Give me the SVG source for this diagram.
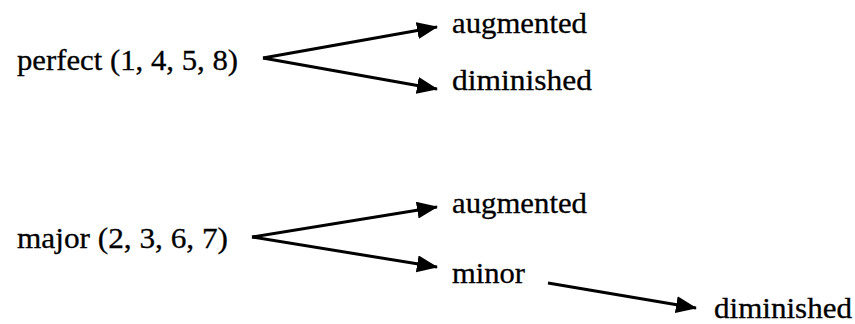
<svg xmlns="http://www.w3.org/2000/svg" width="855" height="324" viewBox="0 0 855 324">
<style>
.t { font-family: "Liberation Serif", "Times New Roman", "DejaVu Serif", serif; font-size: 29px; fill: #000; stroke: #000; stroke-width: 0.3; }
.c line { stroke: #000; stroke-width: 3; }
</style>
<defs>
<marker id="ah" markerUnits="userSpaceOnUse" markerWidth="22" markerHeight="18" viewBox="0 0 22 18" refX="20" refY="8.5" orient="auto">
<path d="M0,0 L21,8.5 L0,17 Z" fill="#000"/>
</marker>
</defs>
<rect width="855" height="324" fill="#fff"/>
<g id="perfect"><text class="t" x="17" y="70" textLength="221" lengthAdjust="spacingAndGlyphs">perfect (1, 4, 5, 8)</text></g>
<g id="augmented1"><text class="t" x="452" y="33" textLength="135" lengthAdjust="spacingAndGlyphs">augmented</text></g>
<g id="diminished1"><text class="t" x="452" y="90" textLength="140" lengthAdjust="spacingAndGlyphs">diminished</text></g>
<g id="major"><text class="t" x="17" y="248" textLength="211" lengthAdjust="spacingAndGlyphs">major (2, 3, 6, 7)</text></g>
<g id="augmented2"><text class="t" x="452" y="213" textLength="135" lengthAdjust="spacingAndGlyphs">augmented</text></g>
<g id="minor"><text class="t" x="452" y="283" textLength="73" lengthAdjust="spacingAndGlyphs">minor</text></g>
<g id="diminished2"><text class="t" x="714" y="318" textLength="138" lengthAdjust="spacingAndGlyphs">diminished</text></g>
<g id="connectors" class="c">
<line x1="263" y1="58" x2="437" y2="27" marker-end="url(#ah)"/>
<line x1="263" y1="58" x2="437" y2="89" marker-end="url(#ah)"/>
<line x1="252" y1="237" x2="437" y2="207" marker-end="url(#ah)"/>
<line x1="252" y1="237" x2="437" y2="267" marker-end="url(#ah)"/>
<line x1="548" y1="283" x2="696" y2="308" marker-end="url(#ah)"/>
</g>
</svg>
